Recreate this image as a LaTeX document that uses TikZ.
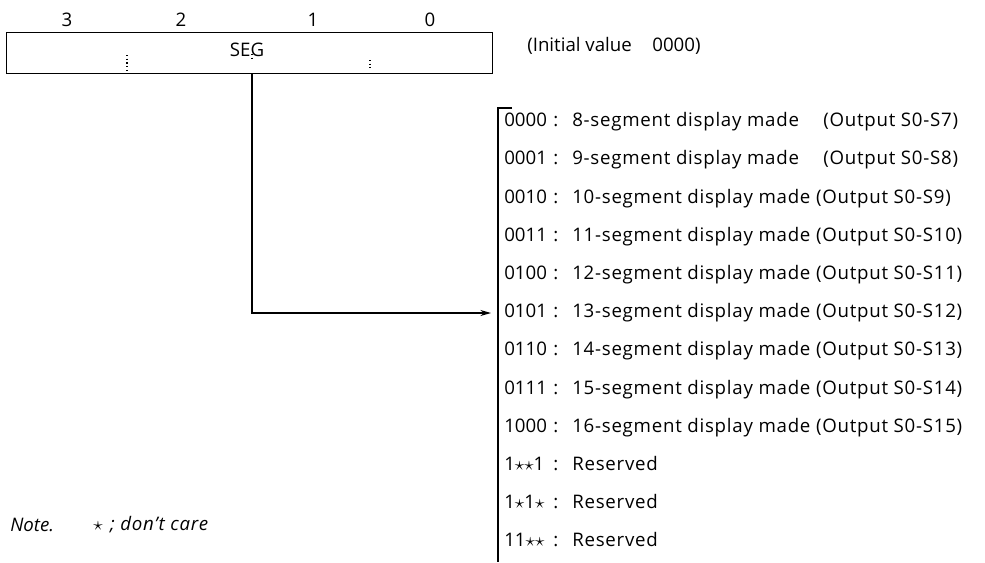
\documentclass[tikz,border=0pt]{standalone}
\usepackage{fontspec}
\setmainfont{Open Sans}
\usetikzlibrary{arrows.meta}
\begin{document}
\begin{tikzpicture}[x=0.75pt,y=-0.75pt,
  every node/.style={font=\fontsize{14}{16}\selectfont, inner sep=0pt},
  rowtxt/.style={anchor=west, text height=9.5pt, text depth=2.5pt},
  spaced/.style={font=\fontsize{14}{16}\selectfont\addfontfeatures{LetterSpace=4}},
  line/.style={line width=0.9pt},
  tickmark/.style={line width=0.8pt, dotted}]
\useasboundingbox (0,0) rectangle (985,562);
% register
\node (reg) [draw, line, minimum width=486*0.75pt, minimum height=41*0.75pt, anchor=north west] at (6,32) {};
\node (seg) at (247,50) {SEG};
\node (b3) at (67,20) {3};
\node (b2) at (181,20) {2};
\node (b1) at (313,20) {1};
\node (b0) at (430,20) {0};
\draw[tickmark] (127,55) -- (127,72);
\draw[tickmark] (252,54) -- (252,59);
\draw[tickmark] (370,60) -- (370,68);
\node (init) [anchor=west] at (527,46) {(Initial value\hspace{1.1em}0000)};
% bracket
\coordinate (bt) at (512,108);
\coordinate (bc) at (498,108);
\coordinate (bb) at (498,562);
\draw[line] (bt) -- (bc) -- (bb);
% rows
\foreach \i/\c/\d in {0/0000/{8-segment display made\hspace{1.3em}(Output S0-S7)},
  1/0001/{9-segment display made\hspace{1.3em}(Output S0-S8)},
  2/0010/{10-segment display made (Output S0-S9)},
  3/0011/{11-segment display made (Output S0-S10)},
  4/0100/{12-segment display made (Output S0-S11)},
  5/0101/{13-segment display made (Output S0-S12)},
  6/0110/{14-segment display made (Output S0-S13)},
  7/0111/{15-segment display made (Output S0-S14)},
  8/1000/{16-segment display made (Output S0-S15)},
  9/{1$\star\star$1}/Reserved,
  10/{1$\star$1$\star$}/Reserved,
  11/{11$\star\star$}/Reserved}
{
  \node (c\i) [rowtxt] at (504,122+38.2*\i) {\c};
  \node (k\i) [rowtxt] at (553,122+38.2*\i) {:};
  \node (d\i) [rowtxt, spaced] at (572,122+38.2*\i) {\d};
}
% connector
\coordinate (stemtop) at (252,73);
\coordinate (corner) at (252,313);
\coordinate (tip) at (491,313);
\draw[line, -{Stealth[length=8pt,width=4.5pt]}] (stemtop) -- (corner) -- (tip);
% note
\node (note) [anchor=west, font=\fontsize{14}{16}\selectfont\itshape] at (10,525) {Note.};
\node (notetxt) [anchor=west, font=\fontsize{14}{16}\selectfont\itshape\addfontfeatures{LetterSpace=4}] at (93,525) {$\star$\hspace{0.4em}; don’t care};
\end{tikzpicture}
\end{document}
